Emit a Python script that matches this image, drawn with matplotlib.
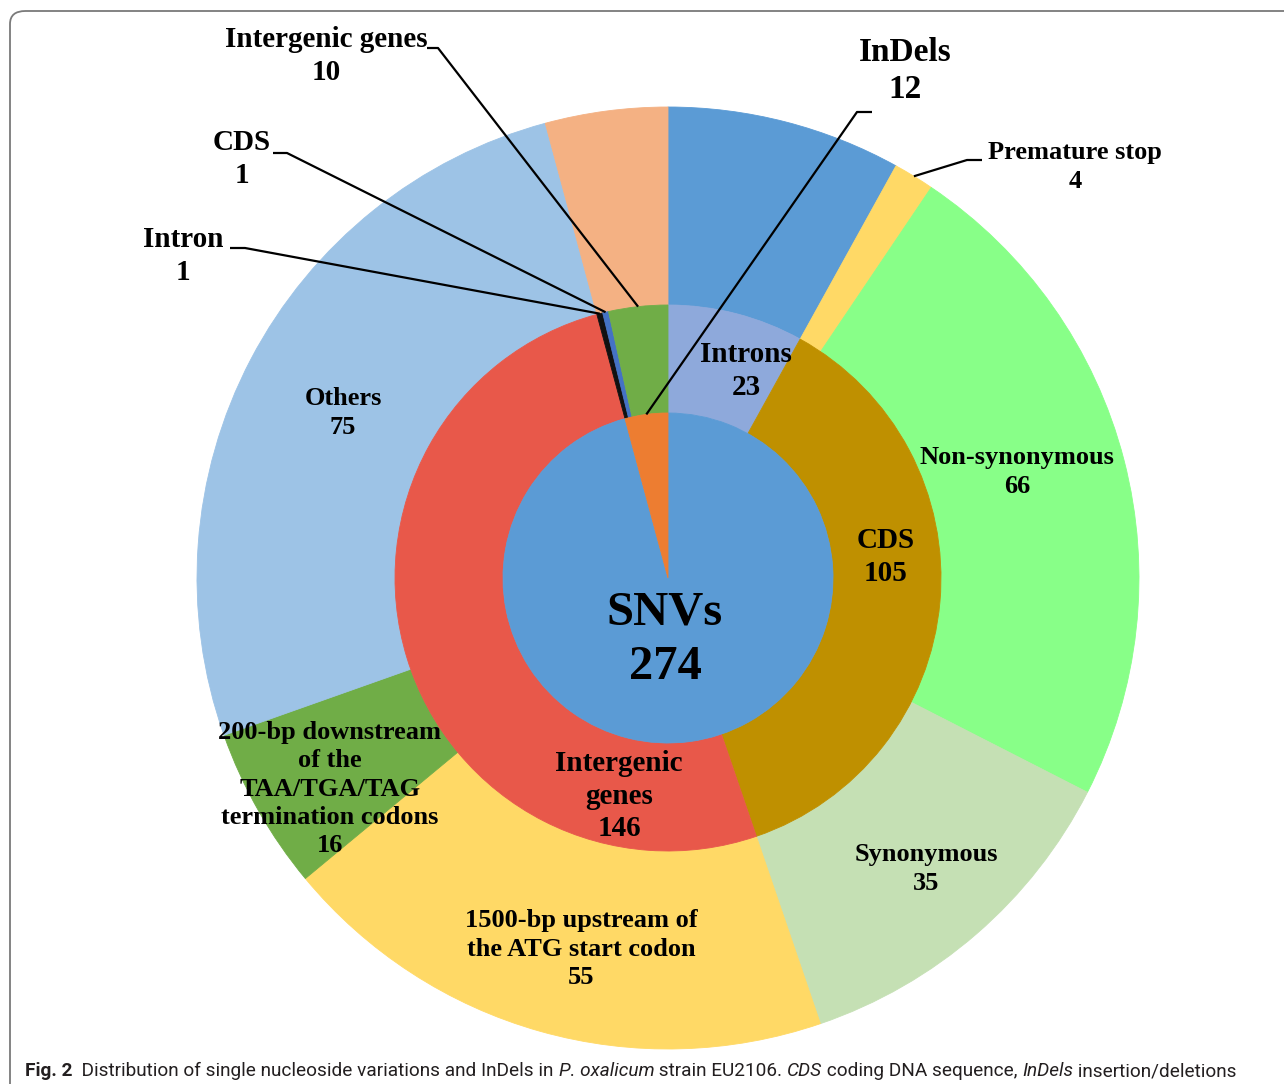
import matplotlib.pyplot as plt
import numpy as np
from matplotlib.patches import FancyBboxPatch

W, H = 1284, 1084

# inner ring: variation type
inner_names = ['SNVs', 'InDels']
inner_values = [274, 12]
inner_colors = ['#5B9BD5', '#ED7D31']

# middle ring: location (SNVs first, then InDels)
middle_names = ['Introns', 'CDS', 'Intergenic\ngenes', 'Intron', 'CDS', 'Intergenic genes']
middle_values = [23, 105, 146, 1, 1, 10]
middle_colors = ['#8EA9DB', '#BF9000', '#E8584A', '#111111', '#4472C4', '#70AD47']

# outer ring: effect
outer_names = ['', 'Premature stop', 'Non-synonymous', 'Synonymous',
               '1500-bp upstream of\nthe ATG start codon',
               '200-bp downstream\nof the\nTAA/TGA/TAG\ntermination codons',
               'Others', '']
outer_values = [23, 4, 66, 35, 55, 16, 75, 12]
outer_colors = ['#5B9BD5', '#FFD966', '#88FF88', '#C5E0B4', '#FFD966',
                '#70AD47', '#9DC3E6', '#F4B183']

serif = 'Liberation Serif'
cx, cy = 668, H - 578
r_out, r_mid, r_in = 471, 273, 165


def px(x, y):
    # pixel coords measured from top-left -> data coords
    return x, H - y


def ring_point(values, idx, r):
    # point on radius r at middle of wedge idx (clockwise from 12 o'clock)
    total = sum(values)
    c = sum(values[:idx]) + values[idx] / 2
    th = np.deg2rad(90 - 360 * c / total)
    return cx + r * np.cos(th), cy + r * np.sin(th)


fig = plt.figure(figsize=(W / 100, H / 100), dpi=100)
ax = fig.add_axes([0, 0, 1, 1])

for vals, cols, rad, wid in [(outer_values, outer_colors, r_out, r_out - r_mid),
                             (middle_values, middle_colors, r_mid, r_mid - r_in),
                             (inner_values, inner_colors, r_in, r_in)]:
    wedges, _ = ax.pie(vals, colors=cols, radius=rad, center=(cx, cy),
                       startangle=90, counterclock=False,
                       wedgeprops=dict(width=wid, linewidth=0.6))
    for w in wedges:
        w.set_edgecolor(w.get_facecolor())

ax.set_xlim(0, W)
ax.set_ylim(0, H)
ax.set_aspect('equal')
ax.axis('off')


def label(x, y, s, size, ls=1.28):
    ax.text(*px(x, y), s, ha='center', va='center', fontsize=size,
            fontweight='bold', family=serif, linespacing=ls)


# labels inside the rings
outer_pos = {2: (1017, 472), 3: (926, 869), 4: (581, 949), 5: (330, 789), 6: (343, 413)}
for i, (x, y) in outer_pos.items():
    label(x, y, f'{outer_names[i]}\n{outer_values[i]}', 19)

middle_pos = {0: (746, 371), 1: (886, 557), 2: (619, 796)}
for i, (x, y) in middle_pos.items():
    label(x, y, f'{middle_names[i]}\n{middle_values[i]}', 21)

label(665, 640, f'{inner_names[0]}\n{inner_values[0]}', 35, ls=1.3)

# labels with leader lines
label(326, 56, f'{middle_names[5]}\n{middle_values[5]}', 21)
label(242, 159, f'{middle_names[4]}\n{middle_values[4]}', 21)
label(183, 256, f'{middle_names[3]}\n{middle_values[3]}', 21)
label(905, 71, f'{inner_names[1]}\n{inner_values[1]}', 24)
label(1075, 167, f'{outer_names[1]}\n{outer_values[1]}', 19)

leaders = [
    (ring_point(middle_values, 5, r_mid), [(438, 48), (427, 48)]),
    (ring_point(middle_values, 4, r_mid), [(287, 153), (273, 153)]),
    (ring_point(middle_values, 3, r_mid), [(245, 248), (230, 248)]),
    (ring_point(inner_values, 1, r_in), [(857, 112), (872, 112)]),
    (ring_point(outer_values, 1, r_out), [(967, 160), (982, 160)]),
]
for end, knees in leaders:
    xs = [end[0]] + [px(*k)[0] for k in knees]
    ys = [end[1]] + [px(*k)[1] for k in knees]
    ax.plot(xs, ys, color='black', lw=1.6, solid_capstyle='butt')

# figure frame
frame = FancyBboxPatch((10 / W, -0.05), 1.2, (H - 11) / H + 0.05,
                       boxstyle='round,pad=0,rounding_size=0.012',
                       transform=fig.transFigure, fill=False,
                       edgecolor='#7a7a7a', lw=1.3)
fig.patches.append(frame)

# caption with mixed styles, all on one baseline
cap_font = ['Roboto', 'DejaVu Sans']
parts = [('Fig. 2', 'bold', 'normal'),
         ('  Distribution of single nucleoside variations and InDels in ', 'normal', 'normal'),
         ('P. oxalicum', 'normal', 'italic'),
         (' strain EU2106. ', 'normal', 'normal'),
         ('CDS', 'normal', 'italic'),
         (' coding DNA sequence, ', 'normal', 'normal'),
         ('InDels', 'normal', 'italic'),
         (' insertion/deletions', 'normal', 'normal')]
cap_texts = [fig.text(0, (H - 1076) / H, s, fontsize=14, family=cap_font,
                      fontweight=wt, fontstyle=st, color='#231F20',
                      va='baseline', ha='left')
             for s, wt, st in parts]

fig.canvas.draw()
total_w = sum(t.get_window_extent().width for t in cap_texts)
scale = (1245 - 25) / total_w
for t in cap_texts:
    t.set_fontsize(14 * scale)
fig.canvas.draw()
x = 25
for t in cap_texts:
    t.set_x(x / W)
    x += t.get_window_extent().width

fig.savefig('out.png', dpi=100)
